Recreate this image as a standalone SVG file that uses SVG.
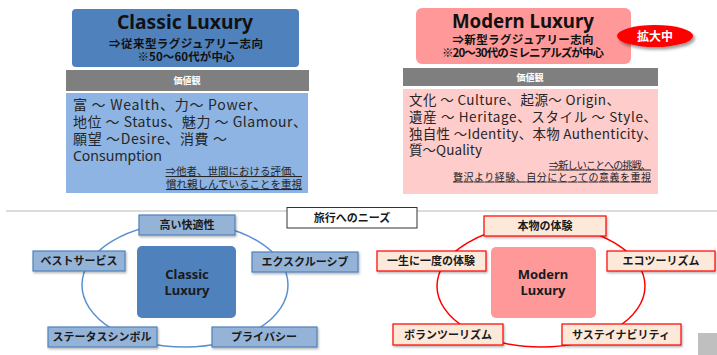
<svg xmlns="http://www.w3.org/2000/svg" width="717" height="355" viewBox="0 0 717 355">
<defs>
<filter id="sh" x="-10%" y="-20%" width="130%" height="160%">
<feDropShadow dx="1" dy="1.5" stdDeviation="1" flood-color="#000" flood-opacity="0.3"/>
</filter>
<filter id="sh2" x="-20%" y="-40%" width="150%" height="200%">
<feDropShadow dx="2" dy="2.5" stdDeviation="1.5" flood-color="#000" flood-opacity="0.4"/>
</filter>
</defs>
<style>
text{font-family:"Noto Sans","Noto Sans CJK JP",sans-serif;fill:#262626}
.j{font-family:"Noto Sans CJK JP","Noto Sans",sans-serif}
.title{font-size:19px;font-weight:bold;text-anchor:middle;fill:#111}
.sub{font-size:11.5px;font-weight:bold;text-anchor:middle;fill:#111}
.hdr{font-size:9px;font-weight:bold;text-anchor:middle;fill:#fff}
.body{font-size:14px}
.mb{font-size:13.5px}
.note{font-size:10.5px;text-decoration:underline;text-anchor:end}
.mnote{font-size:10px;text-decoration:underline;text-anchor:end}
.lbl{font-size:11px;font-weight:bold;text-anchor:middle;fill:#1a1a1a}
.ctr{font-size:13px;font-weight:bold;text-anchor:middle;fill:#1a1a1a}
.cbox{fill:#95B3D7;stroke:#4F81BD;stroke-width:1.2}
.mbox{fill:#FDE9D9;stroke:#FF0000;stroke-width:1.2}
</style>
<rect width="717" height="355" fill="#fff"/>

<g id="classic-header">
<rect x="72" y="9" width="227" height="58" rx="4" fill="#4F81BD"/>
<text class="title" x="185" y="29" textLength="136" lengthAdjust="spacingAndGlyphs">Classic Luxury</text>
<text class="sub j" x="186" y="48" textLength="154">⇒従来型ラグジュアリー志向</text>
<text class="sub j" x="186" y="61" textLength="97">※50～60代が中心</text>
</g>
<g id="classic-values">
<rect x="66" y="70" width="243" height="21" fill="#7F7F7F"/>
<text class="hdr j" x="187" y="84">価値観</text>
<rect x="66" y="93" width="242" height="100" fill="#8DB4E2"/>
<text class="body j" x="73" y="110" textLength="194">富 ～ Wealth、力～  Power、</text>
<text class="body j" x="73" y="127" textLength="234">地位 ～ Status、魅力 ～ Glamour、</text>
<text class="body j" x="73" y="144" textLength="154">願望 ～Desire、消費  ～</text>
<text class="body" x="73" y="161" textLength="89">Consumption</text>
<text class="note j" x="302" y="175">⇒他者、世間における評価、</text>
<text class="note j" x="302" y="188">慣れ親しんでいることを重視</text>
</g>

<g id="modern-header">
<rect x="416" y="8" width="215" height="56" rx="6" fill="#FF9999"/>
<text class="title" x="523" y="28" textLength="142" lengthAdjust="spacingAndGlyphs">Modern Luxury</text>
<text class="sub j" x="523" y="44" textLength="141">⇒新型ラグジュアリー志向</text>
<text class="sub j" x="523" y="57" textLength="162">※20～30代のミレニアルズが中心</text>
</g>
<g id="badge">
<ellipse cx="655" cy="36" rx="38" ry="11" fill="#FF0000" filter="url(#sh2)"/>
<text class="j" x="655" y="40.5" font-size="12" font-weight="bold" text-anchor="middle" style="fill:#fff">拡大中</text>
</g>
<g id="modern-values">
<rect x="403" y="68" width="255" height="18" fill="#7F7F7F"/>
<text class="hdr j" x="530" y="80.5">価値観</text>
<rect x="403" y="89" width="255" height="105" fill="#FFCCCC"/>
<text class="mb j" x="409" y="105" textLength="211">文化 ～ Culture、起源～  Origin、</text>
<text class="mb j" x="409" y="122" textLength="248">遺産 ～ Heritage、スタイル ～ Style、</text>
<text class="mb j" x="409" y="138.5" textLength="248">独自性 ～Identity、本物 Authenticity、</text>
<text class="mb j" x="409" y="155" textLength="73">質～Quality</text>
<text class="mnote j" x="651" y="168.5" textLength="102">⇒新しいことへの挑戦、</text>
<text class="mnote j" x="651" y="180.5" textLength="198">贅沢より経験、自分にとっての意義を重視</text>
</g>

<g id="divider">
<line x1="6" y1="211" x2="717" y2="211" stroke="#D0D0D0" stroke-width="1.5"/>
</g>
<g id="needs-label">
<rect x="287" y="207.5" width="130" height="20.5" fill="#fff" stroke="#333" stroke-width="1"/>
<text class="j" x="352" y="222" font-size="11" font-weight="bold" text-anchor="middle" style="fill:#1a1a1a">旅行へのニーズ</text>
</g>

<g id="connectors">
<ellipse cx="185" cy="285" rx="103" ry="62" fill="none" stroke="#5B8FCF" stroke-width="1.5"/>
<ellipse cx="541" cy="286" rx="104" ry="61" fill="none" stroke="#FF0000" stroke-width="1.5"/>
</g>

<g id="classic-center">
<rect x="137" y="246" width="99" height="72" rx="5" fill="#4F81BD"/>
<text class="ctr" x="187" y="279">Classic</text>
<text class="ctr" x="187" y="295">Luxury</text>
</g>
<g id="c-comfort"><rect class="cbox" x="139" y="215" width="96" height="20" filter="url(#sh)"/><text class="lbl j" x="187" y="229">高い快適性</text></g>
<g id="c-service"><rect class="cbox" x="33" y="251" width="92" height="20" filter="url(#sh)"/><text class="lbl j" x="79" y="265">ベストサービス</text></g>
<g id="c-exclusive"><rect class="cbox" x="252" y="252" width="106" height="20" filter="url(#sh)"/><text class="lbl j" x="305" y="266">エクスクルーシブ</text></g>
<g id="c-status"><rect class="cbox" x="48" y="327" width="109" height="20" filter="url(#sh)"/><text class="lbl j" x="102" y="341">ステータスシンボル</text></g>
<g id="c-privacy"><rect class="cbox" x="212" y="327" width="105" height="20" filter="url(#sh)"/><text class="lbl j" x="264" y="341">プライバシー</text></g>

<g id="modern-center">
<rect x="491" y="247" width="105" height="71" rx="5" fill="#FF9999"/>
<text class="ctr" x="543" y="279">Modern</text>
<text class="ctr" x="543" y="295">Luxury</text>
</g>
<g id="m-authentic"><rect class="mbox" x="484" y="216" width="122" height="20" filter="url(#sh)"/><text class="lbl j" x="545" y="230">本物の体験</text></g>
<g id="m-once"><rect class="mbox" x="377" y="251" width="109" height="20" filter="url(#sh)"/><text class="lbl j" x="431" y="265">一生に一度の体験</text></g>
<g id="m-eco"><rect class="mbox" x="607" y="251" width="108" height="20" filter="url(#sh)"/><text class="lbl j" x="661" y="265">エコツーリズム</text></g>
<g id="m-volun"><rect class="mbox" x="393" y="324" width="110" height="21" filter="url(#sh)"/><text class="lbl j" x="448" y="338.5">ボランツーリズム</text></g>
<g id="m-sustain"><rect class="mbox" x="562" y="324" width="119" height="21" filter="url(#sh)"/><text class="lbl j" x="621" y="338.5">サステイナビリティ</text></g>

<g id="corner">
<rect x="698" y="333" width="19" height="22" fill="#BFBFBF"/>
</g>
</svg>
